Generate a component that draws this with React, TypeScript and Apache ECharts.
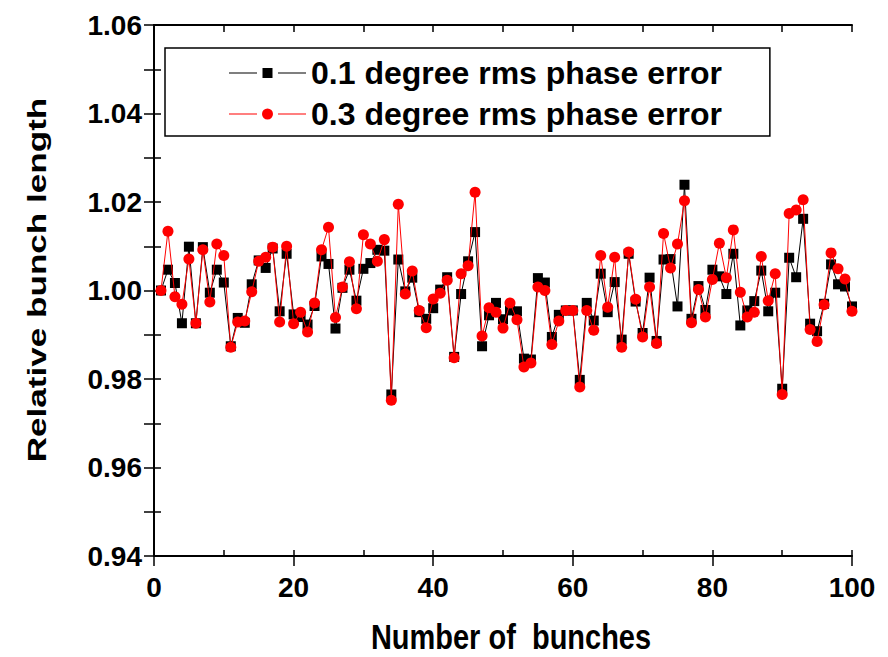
import React, { useEffect, useRef } from "react";
import * as echarts from "echarts";

const bunches: number[] = Array.from({ length: 100 }, (_, i) => i + 1);

const err01: number[] = [
  1.0000, 1.0047, 1.0017, 0.9926, 1.0099, 0.9926, 1.0098, 0.9995, 1.0047, 1.0018,
  0.9874, 0.9938, 0.9927, 1.0014, 1.0068, 1.0051, 1.0095, 0.9953, 1.0083, 0.9946,
  0.9940, 0.9923, 0.9965, 1.0077, 1.0060, 0.9914, 1.0006, 1.0047, 0.9977, 1.0049,
  1.0062, 1.0092, 1.0090, 0.9765, 1.0070, 0.9998, 1.0029, 0.9951, 0.9936, 0.9960,
  1.0002, 1.0030, 0.9850, 0.9992, 1.0066, 1.0132, 0.9874, 0.9944, 0.9972, 0.9935,
  0.9955, 0.9953, 0.9846, 0.9844, 1.0028, 1.0018, 0.9895, 0.9945, 0.9955, 0.9955,
  0.9798, 0.9972, 0.9932, 1.0038, 0.9951, 1.0019, 0.9889, 1.0083, 0.9975, 0.9904,
  1.0029, 0.9886, 1.0070, 1.0071, 0.9964, 1.0239, 0.9936, 1.0010, 0.9956, 1.0047,
  1.0032, 0.9992, 1.0083, 0.9921, 0.9955, 0.9976, 1.0045, 0.9953, 0.9995, 0.9778,
  1.0074, 1.0030, 1.0162, 0.9925, 0.9908, 0.9970, 1.0059, 1.0014, 1.0009, 0.9964,
];

const err03: number[] = [
  1.0000, 1.0134, 0.9986, 0.9969, 1.0071, 0.9926, 1.0092, 0.9974, 1.0105, 1.0079,
  0.9872, 0.9929, 0.9931, 0.9997, 1.0066, 1.0075, 1.0098, 0.9929, 1.0100, 0.9925,
  0.9951, 0.9906, 0.9972, 1.0092, 1.0143, 0.9939, 1.0008, 1.0065, 0.9959, 1.0126,
  1.0105, 1.0066, 1.0115, 0.9752, 1.0195, 0.9992, 1.0044, 0.9955, 0.9916, 0.9981,
  0.9994, 1.0023, 0.9848, 1.0038, 1.0056, 1.0222, 0.9897, 0.9961, 0.9951, 0.9915,
  0.9972, 0.9934, 0.9827, 0.9836, 1.0008, 1.0000, 0.9878, 0.9931, 0.9955, 0.9955,
  0.9782, 0.9955, 0.9910, 1.0079, 0.9962, 1.0075, 0.9872, 1.0087, 0.9980, 0.9895,
  1.0008, 0.9880, 1.0129, 1.0051, 1.0105, 1.0203, 0.9927, 1.0002, 0.9940, 1.0025,
  1.0107, 1.0029, 1.0137, 0.9996, 0.9940, 0.9951, 1.0077, 0.9977, 1.0038, 0.9765,
  1.0174, 1.0182, 1.0205, 0.9912, 0.9885, 0.9968, 1.0085, 1.0049, 1.0026, 0.9953,
];

const seriesNames: string[] = ["0.1 degree rms phase error", "0.3 degree rms phase error"];
const xTitle = "Number of  bunches";
const yTitle = "Relative bunch length";

const FONT = '"Liberation Sans", Arial, Helvetica, sans-serif';

const iconSquare = "path://M0,5h28v1h-28z M33.5,0.5h10v10h-10z M49,5h28v1h-28z";
const iconCircle =
  "path://M0,5h28v1h-28z M33,5.5a5.5,5.5 0 1,0 11,0a5.5,5.5 0 1,0 -11,0z M49,5h28v1h-28z";

export default function App() {
  const ref = useRef<HTMLDivElement>(null);

  useEffect(() => {
    if (!ref.current) return;
    const chart = echarts.init(ref.current, undefined, { renderer: "svg" });

    const axisLabelStyle = {
      fontFamily: FONT,
      fontWeight: "bold" as const,
      fontSize: 28,
      color: "#000",
    };
    const tickLine = { color: "#000", width: 1.5 };
    const axisLineStyle = { show: true, lineStyle: { color: "#000", width: 2 } };

    const option: any = {
      animation: false,
      backgroundColor: "#fff",
      grid: { left: 154, top: 25, width: 698, height: 531, containLabel: false },
      legend: {
        left: 165,
        top: 48,
        orient: "vertical",
        borderColor: "#000",
        borderWidth: 1.5,
        padding: [9, 48, 6, 64],
        itemGap: 9,
        itemWidth: 77,
        itemHeight: 11,
        itemStyle: { borderWidth: 0 },
        textStyle: {
          fontFamily: FONT,
          fontWeight: "bold",
          fontSize: 32,
          lineHeight: 30,
          color: "#000",
        },
        data: [
          { name: seriesNames[0], icon: iconSquare },
          { name: seriesNames[1], icon: iconCircle },
        ],
      },
      xAxis: [
        {
          type: "value",
          position: "bottom",
          min: 0,
          max: 100,
          interval: 20,
          axisLine: axisLineStyle,
          axisTick: { show: true, inside: false, length: 10, lineStyle: tickLine },
          axisLabel: { ...axisLabelStyle, margin: 17 },
          splitLine: { show: false },
        },
        {
          type: "value",
          position: "bottom",
          min: 0,
          max: 100,
          interval: 10,
          axisLine: { show: false },
          axisTick: { show: true, inside: true, length: 6, lineStyle: tickLine },
          axisLabel: { show: false },
          splitLine: { show: false },
        },
        {
          type: "value",
          position: "top",
          min: 0,
          max: 100,
          interval: 10,
          axisLine: axisLineStyle,
          axisTick: { show: true, inside: true, length: 7, lineStyle: tickLine },
          axisLabel: { show: false },
          splitLine: { show: false },
        },
      ],
      yAxis: [
        {
          type: "value",
          position: "left",
          min: 0.94,
          max: 1.06,
          interval: 0.01,
          axisLine: axisLineStyle,
          axisTick: { show: true, inside: true, length: 7, lineStyle: tickLine },
          axisLabel: {
            ...axisLabelStyle,
            margin: 12,
            formatter: (v: number) => (Math.round(v * 100) % 2 === 0 ? v.toFixed(2) : ""),
          },
          splitLine: { show: false },
        },
        {
          type: "value",
          position: "right",
          min: 0.94,
          max: 1.06,
          interval: 0.01,
          axisLine: axisLineStyle,
          axisTick: { show: true, inside: true, length: 10, lineStyle: tickLine },
          axisLabel: { show: false },
          splitLine: { show: false },
        },
      ],
      graphic: [
        {
          type: "text",
          x: 511,
          y: 637,
          scaleY: 1.18,
          style: {
            text: xTitle,
            font: `bold 29px ${FONT}`,
            fill: "#000",
            align: "center",
            verticalAlign: "middle",
            textAlign: "center",
            textVerticalAlign: "middle",
          },
        },
        {
          type: "text",
          x: 37,
          y: 280,
          rotation: Math.PI / 2,
          scaleX: 1.35,
          style: {
            text: yTitle,
            font: `bold 26px ${FONT}`,
            fill: "#000",
            align: "center",
            verticalAlign: "middle",
            textAlign: "center",
            textVerticalAlign: "middle",
          },
        },
      ],
      series: [
        {
          name: seriesNames[0],
          type: "line",
          xAxisIndex: 0,
          yAxisIndex: 0,
          data: bunches.map((b, i) => [b, err01[i]]),
          symbol: "rect",
          symbolSize: 10,
          showAllSymbol: true,
          color: "#000",
          lineStyle: { color: "#000", width: 1 },
          itemStyle: { color: "#000", borderWidth: 0 },
          z: 2,
        },
        {
          name: seriesNames[1],
          type: "line",
          xAxisIndex: 0,
          yAxisIndex: 0,
          data: bunches.map((b, i) => [b, err03[i]]),
          symbol: "circle",
          symbolSize: 11,
          showAllSymbol: true,
          color: "#ff0000",
          lineStyle: { color: "#ff0000", width: 1 },
          itemStyle: { color: "#ff0000", borderWidth: 0 },
          z: 3,
        },
      ],
    };

    chart.setOption(option);
    return () => chart.dispose();
  }, []);

  return (
    <div
      ref={ref}
      style={{ position: "fixed", left: 0, top: 0, width: 888, height: 657, background: "#fff" }}
    />
  );
}
